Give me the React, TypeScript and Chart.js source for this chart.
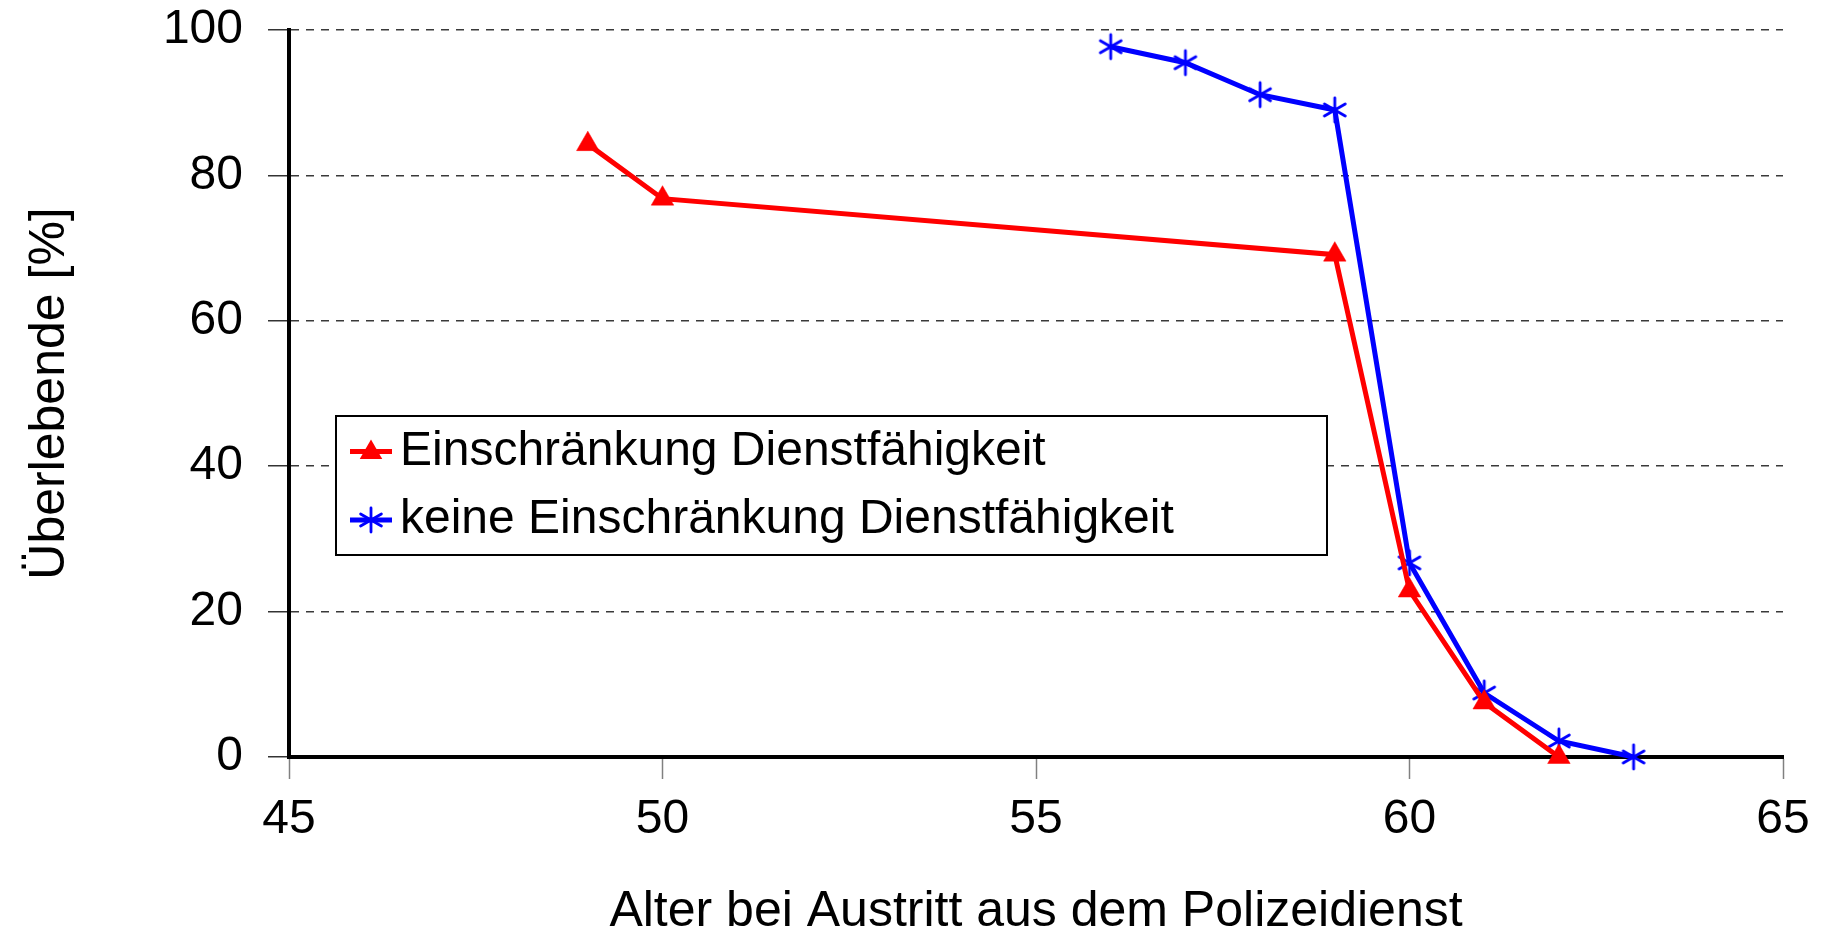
import React, { useEffect, useRef } from "react";
import { Chart, registerables } from "chart.js";

Chart.register(...registerables);

// ---- data ----
const ageRestricted = [49, 50, 59, 60, 61, 62];
const survivorsRestricted = [84.3, 76.8, 69.1, 22.9, 7.5, 0];
const ageUnrestricted = [56, 57, 58, 59, 60, 61, 62, 63];
const survivorsUnrestricted = [97.7, 95.5, 91.1, 89.0, 26.7, 8.8, 2.2, 0];
const xTickValues = [45, 50, 55, 60, 65];
const yTickValues = [0, 20, 40, 60, 80, 100];
const seriesLabels = [
  "Einschränkung Dienstfähigkeit",
  "keine Einschränkung Dienstfähigkeit",
];
const xTitle = "Alter bei Austritt aus dem Polizeidienst";
const yTitle = "Überlebende [%]";

const FONT = "'Liberation Sans', Arial, Helvetica, sans-serif";
const RED = "#ff0000";
const BLUE = "#0000ff";

function makeAsterisk(color: string, r: number, lw: number) {
  const size = Math.ceil(2 * r + lw * 2 + 2);
  const c = document.createElement("canvas");
  c.width = size;
  c.height = size;
  const ctx = c.getContext("2d")!;
  ctx.strokeStyle = color;
  ctx.lineWidth = lw;
  ctx.lineCap = "round";
  const cx = size / 2;
  for (const a of [90, 30, 150]) {
    const rad = (a * Math.PI) / 180;
    ctx.beginPath();
    ctx.moveTo(cx + r * Math.cos(rad), cx - r * Math.sin(rad));
    ctx.lineTo(cx - r * Math.cos(rad), cx + r * Math.sin(rad));
    ctx.stroke();
  }
  return c;
}

function drawTriangle(ctx: CanvasRenderingContext2D, x: number, y: number, r: number, color: string) {
  ctx.fillStyle = color;
  ctx.beginPath();
  ctx.moveTo(x, y - r);
  ctx.lineTo(x + 0.866 * r, y + r / 2);
  ctx.lineTo(x - 0.866 * r, y + r / 2);
  ctx.closePath();
  ctx.fill();
}

const insideLegend = {
  id: "insideLegend",
  afterDraw(chart: any) {
    const { ctx, chartArea } = chart;
    const left = chartArea.left + 47;
    const top = chartArea.top + 386;
    const w = 991;
    const h = 139;
    ctx.save();
    ctx.fillStyle = "#fff";
    ctx.fillRect(left, top, w, h);
    ctx.lineWidth = 2;
    ctx.strokeStyle = "#000";
    ctx.strokeRect(left, top, w, h);
    chart.data.datasets.forEach((ds: any, i: number) => {
      const y = top + 35.5 + i * 68.5;
      const cx = left + 35;
      ctx.strokeStyle = ds.borderColor;
      ctx.lineWidth = 5;
      ctx.beginPath();
      ctx.moveTo(left + 14, y);
      ctx.lineTo(left + 56, y);
      ctx.stroke();
      if (ds.pointStyle === "triangle") {
        drawTriangle(ctx, cx, y + 1, 13, ds.backgroundColor);
      } else if (ds.pointStyle instanceof HTMLCanvasElement) {
        const img = ds.pointStyle;
        ctx.drawImage(img, cx - img.width / 2, y - img.height / 2);
      }
      ctx.fillStyle = "#000";
      ctx.font = `48px ${FONT}`;
      ctx.textBaseline = "middle";
      ctx.textAlign = "left";
      ctx.fillText(ds.label, left + 64, y);
    });
    ctx.restore();
  },
};

export default function App() {
  const ref = useRef<HTMLCanvasElement>(null);
  useEffect(() => {
    const asterisk = makeAsterisk(BLUE, 12, 2.8);
    const chart = new Chart(ref.current!, {
      type: "line",
      data: {
        datasets: [
          {
            label: seriesLabels[0],
            data: ageRestricted.map((x, i) => ({ x, y: survivorsRestricted[i] })),
            borderColor: RED,
            backgroundColor: RED,
            borderWidth: 5,
            pointStyle: "triangle",
            pointRadius: 13,
            pointBorderWidth: 0.5,
            pointBorderColor: RED,
            pointBackgroundColor: RED,
            tension: 0,
            clip: false as any,
          },
          {
            label: seriesLabels[1],
            data: ageUnrestricted.map((x, i) => ({ x, y: survivorsUnrestricted[i] })),
            borderColor: BLUE,
            backgroundColor: BLUE,
            borderWidth: 5,
            pointStyle: asterisk as any,
            pointRadius: 12,
            tension: 0,
            clip: false as any,
          },
        ],
      },
      options: {
        animation: false,
        responsive: true,
        maintainAspectRatio: false,
        layout: { padding: { top: 30, right: 39, bottom: 0, left: 0 } },
        plugins: {
          legend: { display: false },
          tooltip: { enabled: false },
        },
        scales: {
          x: {
            type: "linear",
            min: 45,
            max: 65,
            afterBuildTicks: (scale: any) => {
              scale.ticks = xTickValues.map((v) => ({ value: v }));
            },
            afterFit: (scale: any) => {
              scale.height = 177;
              scale.paddingLeft = 0;
              scale.paddingRight = 0;
            },
            ticks: {
              color: "#000",
              font: { family: FONT, size: 48 },
              padding: 12,
              maxRotation: 0,
              autoSkip: false,
            },
            grid: {
              drawOnChartArea: false,
              drawTicks: true,
              tickLength: 22,
              tickColor: "#808080",
              tickWidth: 1.5,
            },
            border: { display: true, color: "#000", width: 4 },
            title: {
              display: true,
              text: xTitle,
              color: "#000",
              font: { family: FONT, size: 50, lineHeight: 0.88 },
              padding: { top: 0, bottom: 0 },
            },
          },
          y: {
            type: "linear",
            min: 0,
            max: 100,
            afterBuildTicks: (scale: any) => {
              scale.ticks = yTickValues.map((v) => ({ value: v }));
            },
            afterFit: (scale: any) => {
              scale.width = 289;
              scale.paddingTop = 0;
              scale.paddingBottom = 0;
            },
            ticks: {
              color: "#000",
              font: { family: FONT, size: 48 },
              padding: 25,
              autoSkip: false,
            },
            grid: {
              drawOnChartArea: true,
              drawTicks: true,
              color: "#3a3a3a",
              lineWidth: 1.5,
              tickLength: 21,
              tickColor: "#333",
              tickWidth: 1.5,
              tickBorderDash: [],
            } as any,
            border: { display: true, color: "#000", width: 4, dash: [8, 7] },
            title: {
              display: true,
              text: yTitle,
              color: "#000",
              font: { family: FONT, size: 50, lineHeight: 1 },
              padding: { top: 25, bottom: 0 },
            },
          },
        },
      },
      plugins: [insideLegend],
    } as any);
    return () => chart.destroy();
  }, []);
  return (
    <div
      style={{
        position: "fixed",
        left: 0,
        top: 0,
        width: 1822,
        height: 934,
        background: "#fff",
      }}
    >
      <canvas ref={ref} />
    </div>
  );
}
